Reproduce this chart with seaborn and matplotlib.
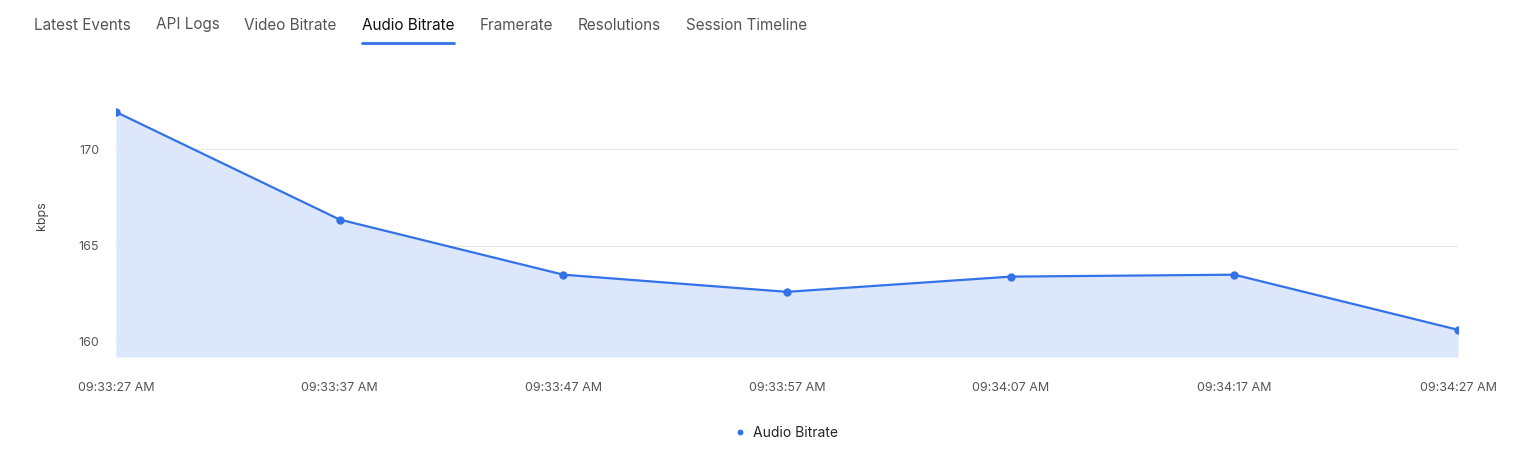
import matplotlib
matplotlib.use("Agg")
import matplotlib.pyplot as plt
import seaborn as sns
import pandas as pd

times = ["09:33:27 AM", "09:33:37 AM", "09:33:47 AM", "09:33:57 AM",
         "09:34:07 AM", "09:34:17 AM", "09:34:27 AM"]
bitrate = [171.93, 166.35, 163.49, 162.6, 163.39, 163.49, 160.63]
tabs = ["Latest Events", "API Logs", "Video Bitrate", "Audio Bitrate",
        "Framerate", "Resolutions", "Session Timeline"]
active_tab = "Audio Bitrate"

sns.set_style("white")
plt.rcParams["font.family"] = ["Inter", "DejaVu Sans"]

df = pd.DataFrame({"x": range(len(times)), "kbps": bitrate})
blue = "#3372e8"

fig = plt.figure(figsize=(15.35, 4.54), dpi=100)
ax = fig.add_axes([116 / 1535, (454 - 357) / 454, (1458 - 116) / 1535, (357 - 75) / 454])

ymin = 159.22
ax.fill_between(df["x"], df["kbps"], ymin, color="#dce7fb", lw=0)
sns.lineplot(data=df, x="x", y="kbps", ax=ax, color=blue, lw=1.6,
             marker="o", markersize=6, markeredgewidth=0, label="Audio Bitrate")
ax.set_xlim(0, len(times) - 1)
ax.set_ylim(ymin, 173.85)
ax.set_yticks([160, 165, 170])
ax.set_xticks(range(len(times)))
ax.set_xticklabels(times)
ax.tick_params(axis="both", labelsize=9, colors="#555555", length=0)
ax.tick_params(axis="x", pad=18)
ax.tick_params(axis="y", pad=12)
ax.grid(axis="y", color="#e6e6e6", lw=0.8)
ax.set_axisbelow(True)
for s in ax.spines.values():
    s.set_visible(False)
ax.set_xlabel("")
ax.set_ylabel("kbps", fontsize=9, color="#444444", labelpad=22)
ax.legend(loc="upper center", bbox_to_anchor=(0.5, -0.2), frameon=False,
          fontsize=10, handlelength=0.6, handletextpad=0.6,
          markerscale=0.7)
leg = ax.get_legend()
for h in leg.legend_handles:
    h.set_linestyle("none")

# tab bar
xpos = 34
for t in tabs:
    txt = fig.text(xpos / 1535, 1 - 25 / 454, t, fontsize=11,
                   color="#111111" if t == active_tab else "#555555",
                   va="center", ha="left")
    fig.canvas.draw()
    w = txt.get_window_extent().width
    if t == active_tab:
        fig.add_artist(plt.Line2D([xpos / 1535, (xpos + w) / 1535],
                                  [1 - 43 / 454] * 2, color=blue, lw=2))
    xpos += w + 25

fig.savefig("out.png", dpi=100)
